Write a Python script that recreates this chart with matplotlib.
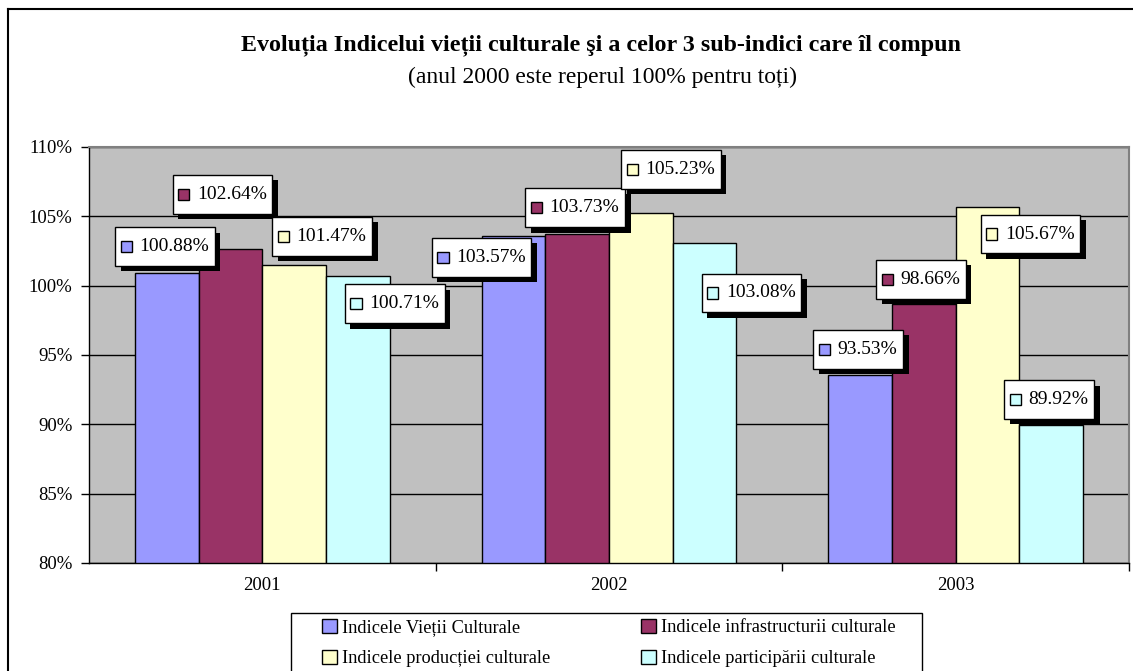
import numpy as np
import matplotlib
matplotlib.use("Agg")
import matplotlib.pyplot as plt
from matplotlib.patches import Patch, Rectangle
from matplotlib.lines import Line2D
from matplotlib.offsetbox import AnnotationBbox, HPacker, TextArea, DrawingArea
import matplotlib.patheffects as pe

plt.rcParams["font.family"] = ["Liberation Serif", "DejaVu Serif"]

years = ["2001", "2002", "2003"]
series = ["Indicele Vieții Culturale", "Indicele infrastructurii culturale",
          "Indicele producției culturale", "Indicele participării culturale"]
vieti = [100.88, 103.57, 93.53]
infrastructura = [102.64, 103.73, 98.66]
productie = [101.47, 105.23, 105.67]
participare = [100.71, 103.08, 89.92]
colors = ["#9999FF", "#993366", "#FFFFCC", "#CCFFFF"]

# label offsets (pixels) from top of each bar, as placed in the original
label_offsets = [
    [(-2, 27), (-32, -21), (-2, 26)],
    [(-8, 55), (-2, 26), (-3, 25)],
    [(28, 29), (30, 44), (43, -27)],
    [(37, -28), (47, -50), (-2, 26)],
]

W, H = 1133, 671
fig = plt.figure(figsize=(W / 100, H / 100), dpi=100)

# chart area border
fig.add_artist(Line2D([8 / W, 1], [1 - 9 / H, 1 - 9 / H], color="black", lw=1.5))
fig.add_artist(Line2D([8 / W, 8 / W], [0, 1 - 9 / H], color="black", lw=1.5))

ax = fig.add_axes([89 / W, 1 - 563 / H, 1040 / W, 416 / H])
ax.set_facecolor("#C0C0C0")

x = np.arange(len(years))
width = 0.1835
data = [vieti, infrastructura, productie, participare]
for i, vals in enumerate(data):
    xs = x + (i - 1.5) * width
    ax.bar(xs, [v - 80 for v in vals], width, bottom=80, color=colors[i],
           edgecolor="black", linewidth=1, zorder=3, label=series[i])
    for j, v in enumerate(vals):
        da = DrawingArea(8, 20, 0, 0)
        da.add_artist(Rectangle((0, 6), 8, 8, facecolor=colors[i],
                                edgecolor="black", linewidth=1))
        ta = TextArea("%.2f%%" % v, textprops=dict(fontsize=14))
        box = HPacker(children=[da, ta], align="center", pad=0, sep=5.5)
        dx, dy = label_offsets[i][j]
        ab = AnnotationBbox(box, (xs[j], v), xybox=(dx, dy),
                            xycoords="data", boxcoords="offset pixels",
                            frameon=True,
                            bboxprops=dict(boxstyle="square,pad=0.4",
                                           facecolor="white", edgecolor="black",
                                           linewidth=1))
        ab.patch.set_path_effects([pe.SimplePatchShadow(offset=(4, -4), shadow_rgbFace="black", alpha=1),
                                   pe.Normal()])
        ab.set_zorder(5)
        ax.add_artist(ab)

ax.set_xlim(-0.5, 2.5)
ax.set_ylim(80, 110)
ax.set_yticks(range(80, 111, 5))
ax.set_yticklabels(["%d%%" % t for t in range(80, 111, 5)], fontsize=13.5)
ax.yaxis.grid(True, color="black", linewidth=1, zorder=1)
ax.set_axisbelow(True)
ax.set_xticks(x)
ax.set_xticklabels(years, fontsize=13.5)
ax.tick_params(axis="x", length=0, pad=10)
ax.set_xticks([0.5, 1.5, 2.5], minor=True)
ax.tick_params(axis="x", which="minor", length=6, width=1, direction="out")
ax.tick_params(axis="y", length=6, width=1, direction="out", pad=6)
for s in ["top", "right"]:
    ax.spines[s].set_color("#808080")
    ax.spines[s].set_linewidth(1.5)
for s in ["left", "bottom"]:
    ax.spines[s].set_color("black")
    ax.spines[s].set_linewidth(1)

fig.text(601 / W, 1 - 45 / H, "Evoluția Indicelui vieții culturale şi a celor 3 sub-indici care îl compun",
         ha="center", va="center", fontsize=17.3, fontweight="bold")
fig.text(602 / W, 1 - 77 / H, "(anul 2000 este reperul 100% pentru toți)",
         ha="center", va="center", fontsize=17)

# legend frame (runs past the bottom edge like the original)
fig.add_artist(Rectangle((291 / W, -0.02), (922 - 291) / W, (671 - 613) / H + 0.02,
                         transform=fig.transFigure, facecolor="white",
                         edgecolor="black", linewidth=1))

# legend filled row by row, as in the original
order = [0, 2, 1, 3]
handles = [Patch(facecolor=colors[k], edgecolor="black", linewidth=1) for k in order]
labels = [series[k] for k in order]
leg = fig.legend(handles, labels, loc="upper left", bbox_to_anchor=(322 / W, 1 - 619 / H),
                 ncol=2, fontsize=13.2, frameon=False,
                 handlelength=0.8, handleheight=0.8, handletextpad=0.3,
                 columnspacing=4.95, borderpad=0, labelspacing=0.72, borderaxespad=0)

fig.savefig("out.png", dpi=100)
